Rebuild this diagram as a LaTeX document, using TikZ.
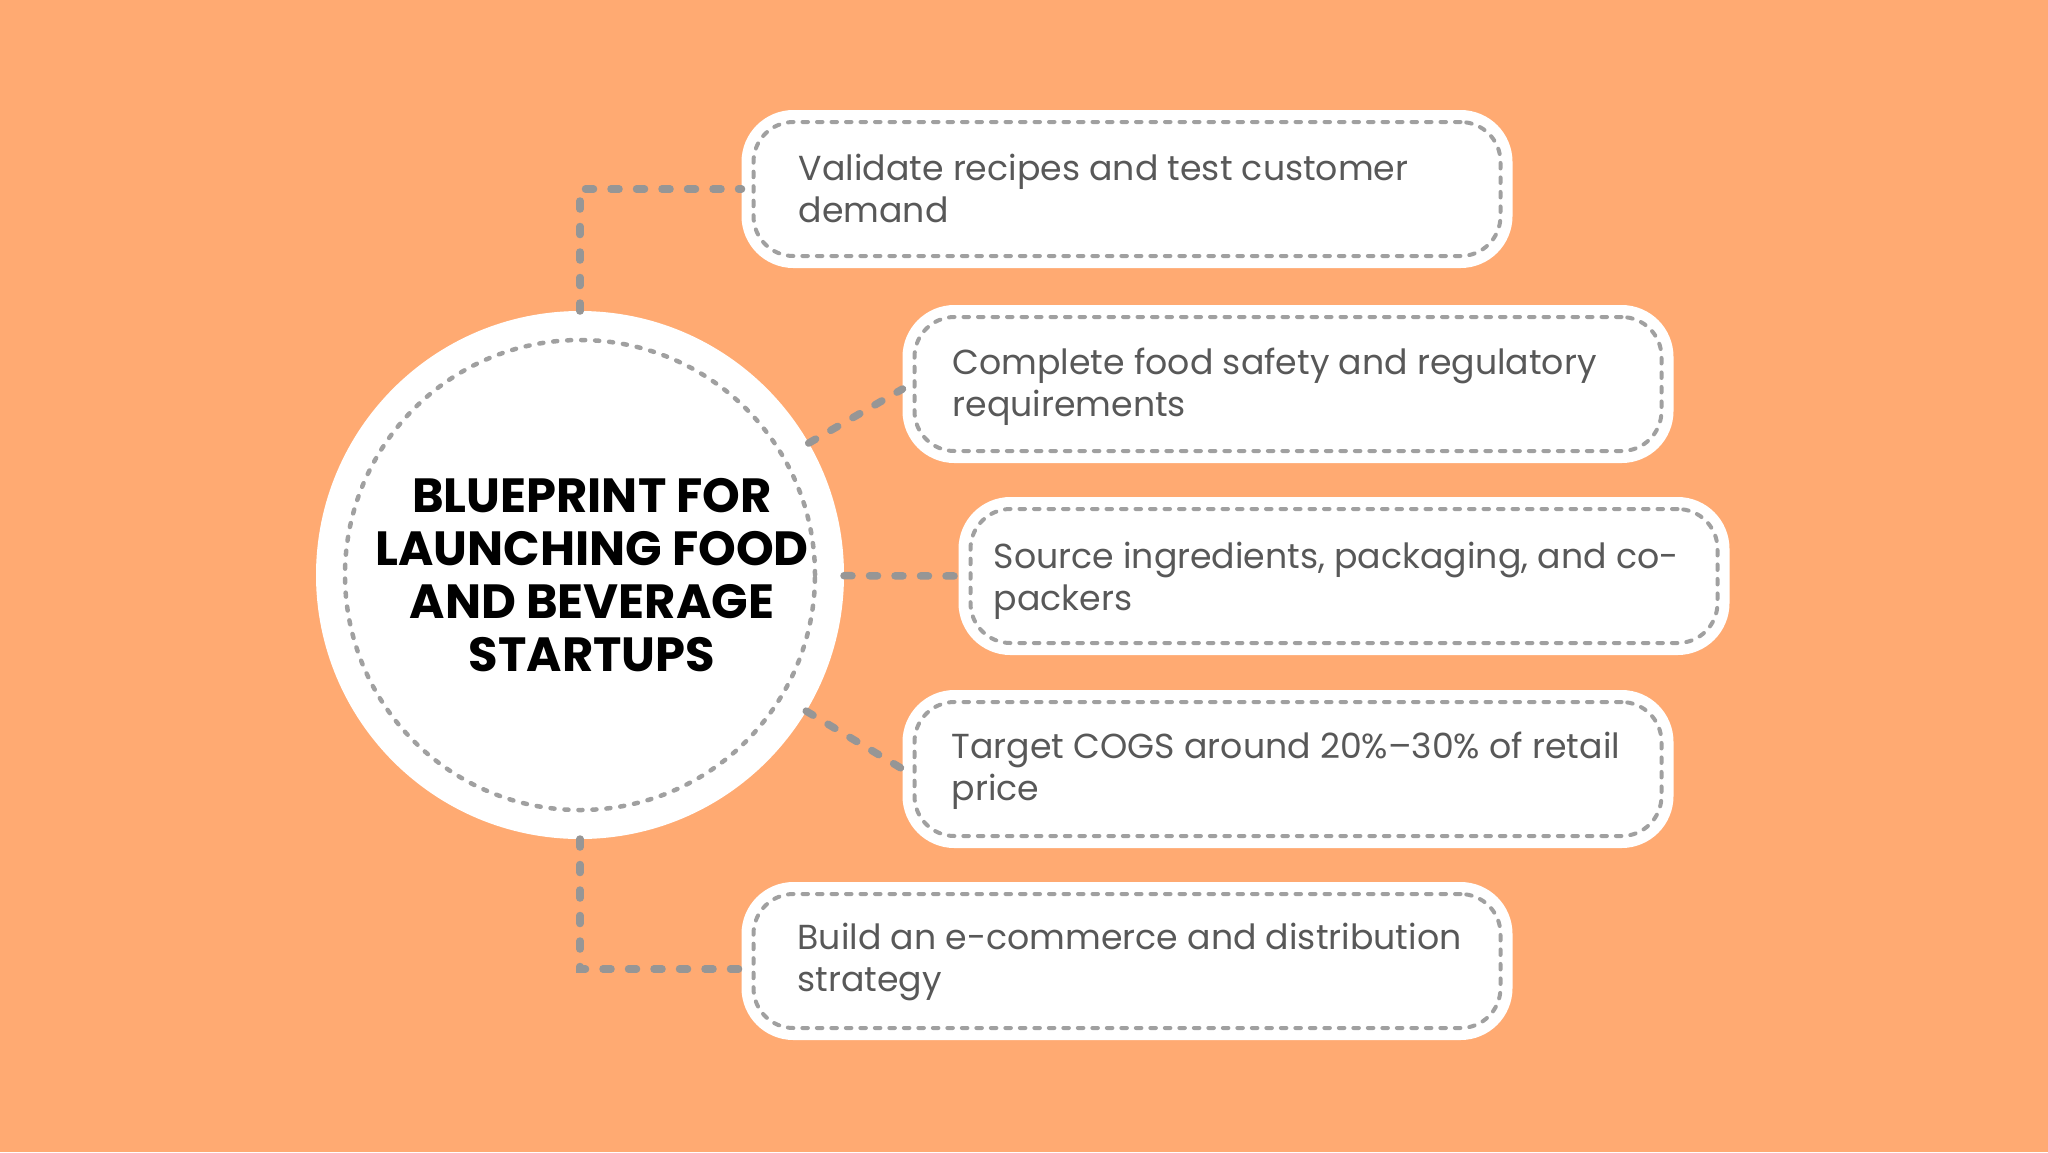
\documentclass[tikz,border=0pt]{standalone}
\usepackage{fontspec}
\setmainfont{Poppins}
\usetikzlibrary{positioning}

\definecolor{peach}{RGB}{255,170,114}
\definecolor{linkgray}{RGB}{150,150,150}
\definecolor{dashgray}{RGB}{160,160,160}
\definecolor{inkgray}{RGB}{88,88,88}

\tikzset{
  hub/.style={circle, fill=white, draw=dashgray, line width=4.5pt,
    dash pattern=on 4pt off 10pt, line cap=round, minimum size=470pt,
    inner sep=0pt, outer sep=29pt,
    preaction={draw=white, solid, line width=58pt}},
  card/.style={fill=white, draw=dashgray, line width=4pt,
    dash pattern=on 5.5pt off 9pt, line cap=round, rounded corners=40pt,
    minimum width=747pt, minimum height=134pt, inner sep=0pt, outer sep=12pt,
    preaction={draw=white, solid, line width=24pt}},
  headline/.style={font=\fontsize{48}{53}\selectfont\bfseries, align=center, inner sep=0pt},
  note/.style={font=\fontsize{34.7}{42}\selectfont, text=inkgray, align=left,
    inner sep=0pt, yshift=-2pt},
  link/.style={draw=linkgray, line width=7.5pt, line cap=round, dash pattern=on 8pt off 17.5pt}
}

\begin{document}
\begin{tikzpicture}[x=1pt, y=-1pt]
  \useasboundingbox (0,0) rectangle (2048,1152);
  \fill[peach] (0,0) rectangle (2048,1152);

  % centre
  \node[hub] (c) at (580,575) {};
  \node[headline] (title) at ([xshift=12pt]c.center)
    {BLUEPRINT FOR\\LAUNCHING FOOD\\AND BEVERAGE\\STARTUPS};

  % steps
  \node[card] (b1) at (1127,189) {};
  \node[card] (b2) at (1288,384) {};
  \node[card] (b3) at (1344,576) {};
  \node[card] (b4) at (1288,769) {};
  \node[card] (b5) at (1127,961) {};

  \node[note, right=57pt of b1.west, yshift=3pt] (t1) {Validate recipes and test customer\\demand};
  \node[note, right=50pt of b2.west, yshift=-1pt] (t2) {Complete food safety and regulatory\\requirements};
  \node[note, right=35pt of b3.west, yshift=-3pt] (t3) {Source ingredients, packaging, and co-\\packers};
  \node[note, right=49pt of b4.west] (t4) {Target COGS around 20\%–30\% of retail\\price};
  \node[note, right=56pt of b5.west, yshift=1pt] (t5) {Build an e-commerce and distribution\\strategy};

  % links
  \draw[link] (c.north) |- (b1.west);
  \draw[link] (c) -- ([yshift=-5pt]b2.west);
  \draw[link] (c) -- (b3.west);
  \draw[link] (c) -- (b4.west);
  \draw[link] (c.south) |- ([yshift=-8pt]b5.west);
\end{tikzpicture}
\end{document}
